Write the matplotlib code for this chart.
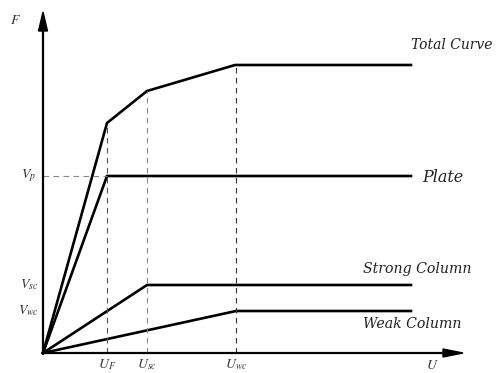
import numpy as np
import matplotlib.pyplot as plt

plt.rcParams['mathtext.fontset'] = 'stix'

# displacement points (U) and forces (F), arbitrary units
U_total = [0, 64, 104, 192, 368]
F_total = [0, 230, 262, 288, 288]

U_plate = [0, 64, 368]
F_plate = [0, 177, 177]

U_strong = [0, 104, 368]
F_strong = [0, 68, 68]

U_weak = [0, 193, 368]
F_weak = [0, 42, 42]

U_ticks = [64, 104, 193]
U_labels = [r'$U_F$', r'$U_{sc}$', r'$U_{wc}$']
V_ticks = [177, 68, 42]
V_labels = [r'$V_p$', r'$V_{sc}$', r'$V_{wc}$']

fig = plt.figure(figsize=(4.96, 3.73), dpi=100)
ax = fig.add_axes([0, 0, 1, 1])
ax.set_xlim(-43, 453)
ax.set_ylim(-20, 353)
ax.axis('off')

lw = 1.9
for u, f in [(U_total, F_total), (U_plate, F_plate), (U_strong, F_strong), (U_weak, F_weak)]:
    ax.plot(u, f, color='black', lw=lw, solid_joinstyle='miter')

# dashed guides
ax.plot([U_ticks[0], U_ticks[0]], [0, F_total[1]], ls=(0, (5, 4)), color='#555555', lw=0.8)
ax.plot([U_ticks[1], U_ticks[1]], [0, F_total[2]], ls=(0, (5, 4)), color='#888888', lw=0.8)
ax.plot([U_ticks[2], U_ticks[2]], [0, F_total[3]], ls=(0, (5, 4)), color='#333333', lw=0.8)
ax.plot([0, U_ticks[0]], [V_ticks[0], V_ticks[0]], ls=(0, (5, 4)), color='#888888', lw=0.8)

# axes with arrows
ax.plot([0, 0], [0, 325], color='black', lw=1.6)
ax.plot([0, 405], [0, 0], color='black', lw=1.6)
ax.fill([-4.5, 4.5, 0], [322, 322, 341], color='black')
ax.fill([400, 400, 420], [-4, 4, 0], color='black')

mfs = 10
for u, lab in zip(U_ticks, U_labels):
    ax.text(u, -12, lab, ha='center', va='center', fontsize=mfs, color='#333333')
for v, lab in zip(V_ticks, V_labels):
    ax.text(-14, v, lab, ha='center', va='center', fontsize=mfs, color='#333333')

ax.text(389, -12, r'$U$', ha='center', va='center', fontsize=mfs, color='#333333')
ax.text(-28, 333, r'$F$', ha='center', va='center', fontsize=mfs, color='#333333')

lab_kw = dict(family='DejaVu Serif', style='italic', color='#222222', va='center', ha='left')
ax.text(368, 308, 'Total Curve', fontsize=10, **lab_kw)
ax.text(379, 176, 'Plate', fontsize=11.5, **lab_kw)
ax.text(320, 84, 'Strong Column', fontsize=10.2, **lab_kw)
ax.text(320, 29, 'Weak Column', fontsize=10.2, **lab_kw)

fig.savefig('out.png', dpi=100)
